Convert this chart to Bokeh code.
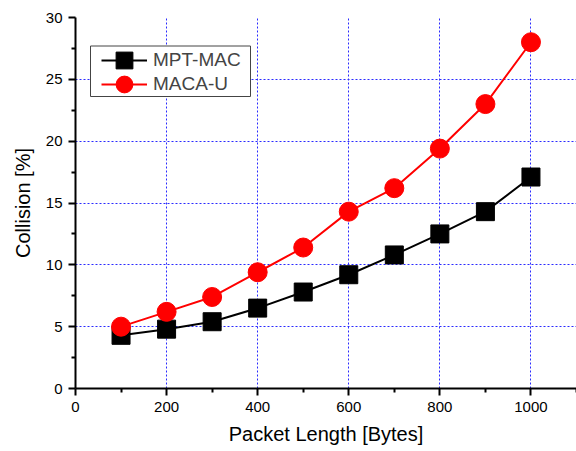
from bokeh.plotting import figure
from bokeh.models import FixedTicker, Range1d, Legend, LegendItem, BoxAnnotation
from bokeh.embed import file_html
from bokeh.resources import INLINE

packet_length = [100, 200, 300, 400, 500, 600, 700, 800, 900, 1000]
mpt_mac = [4.3, 4.8, 5.4, 6.5, 7.8, 9.2, 10.8, 12.5, 14.3, 17.1]
maca_u = [5.0, 6.2, 7.4, 9.4, 11.4, 14.3, 16.2, 19.4, 23.0, 28.0]
x_ticks = [0, 200, 400, 600, 800, 1000]
x_minor = [100, 300, 500, 700, 900, 1100]
y_ticks = [0, 5, 10, 15, 20, 25, 30]
y_minor = [2.5, 7.5, 12.5, 17.5, 22.5, 27.5]

FONT = "Liberation Sans"

p = figure(width=576, height=451, output_backend="svg", toolbar_location=None,
           x_range=Range1d(0, 1100), y_range=Range1d(0, 30),
           min_border_left=75, min_border_right=0, min_border_top=17, min_border_bottom=63)
p.outline_line_color = None
p.background_fill_color = "white"

for ax in (p.xaxis[0], p.yaxis[0]):
    ax.axis_line_width = 2
    ax.major_tick_line_width = 2
    ax.minor_tick_line_width = 2
    ax.major_tick_out = 7
    ax.major_tick_in = 0
    ax.minor_tick_out = 4
    ax.minor_tick_in = 0
    ax.major_label_text_font = FONT
    ax.major_label_text_font_size = "15px"
    ax.major_label_text_color = "black"
    ax.axis_label_text_font = FONT
    ax.axis_label_text_font_size = "20px"
    ax.axis_label_text_font_style = "normal"
    ax.axis_label_text_color = "black"

p.xaxis.ticker = FixedTicker(ticks=x_ticks, minor_ticks=x_minor)
p.yaxis.ticker = FixedTicker(ticks=y_ticks, minor_ticks=y_minor)
p.xaxis.axis_label = "Packet Length [Bytes]"
p.yaxis.axis_label = "Collision [%]"
p.xaxis.major_label_standoff = 6
p.yaxis.major_label_standoff = 6
p.xaxis.axis_label_standoff = 8
p.yaxis.axis_label_standoff = 9

p.xgrid.ticker = FixedTicker(ticks=[200, 400, 600, 800, 1000])
p.ygrid.ticker = FixedTicker(ticks=[5, 10, 15, 20, 25])
for g in (p.xgrid[0], p.ygrid[0]):
    g.grid_line_color = "#2a2aff"
    g.grid_line_dash = "2 2"
    g.grid_line_width = 1

l1 = p.line(packet_length, mpt_mac, line_color="black", line_width=2)
s1 = p.scatter(packet_length, mpt_mac, marker="square", size=18, fill_color="black", line_color="black")
l2 = p.line(packet_length, maca_u, line_color="#ff0000", line_width=2)
s2 = p.scatter(packet_length, maca_u, marker="circle", size=19, fill_color="#ff0000", line_color="#ff0000")

# legend frame (drawn behind the legend entries)
box = BoxAnnotation(left=90, right=250, top=45.5, bottom=96,
                    left_units="canvas", right_units="canvas",
                    top_units="canvas", bottom_units="canvas",
                    fill_color="white", fill_alpha=1,
                    line_color="#444444", line_width=1, line_alpha=1)
p.add_layout(box)


def make_legend(label, renderers, loc):
    lg = Legend(items=[LegendItem(label=label, renderers=renderers)], location=loc)
    lg.label_text_font = FONT
    lg.label_text_font_size = "19px"
    lg.glyph_width = 46
    lg.glyph_height = 42
    lg.label_height = 42
    lg.spacing = 0
    lg.padding = 0
    lg.margin = 0
    lg.label_standoff = 6
    lg.border_line_color = None
    lg.background_fill_alpha = 0
    p.add_layout(lg, "center")


make_legend("MPT-MAC", [l1, s1], (26, 307))
make_legend("MACA-U", [l2, s2], (26, 283))

open("out.html", "w").write(file_html(p, INLINE))
